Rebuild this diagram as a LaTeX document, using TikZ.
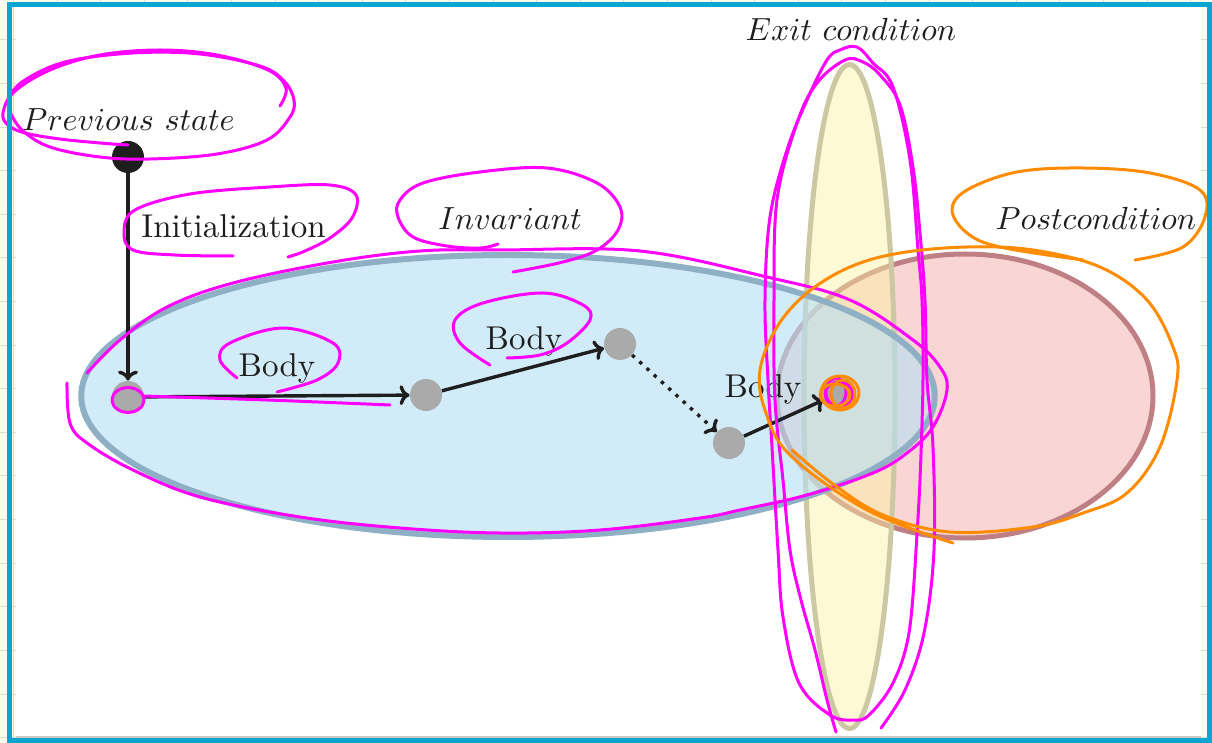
\documentclass[tikz,border=0pt]{standalone}
\usetikzlibrary{shapes.geometric,arrows.meta}
\definecolor{paper}{RGB}{254,252,236}
\definecolor{gridc}{RGB}{222,220,206}
\definecolor{framec}{RGB}{10,166,209}
\definecolor{bluef}{RGB}{180,223,245}
\definecolor{blueb}{RGB}{143,176,196}
\definecolor{pinkf}{RGB}{249,214,211}
\definecolor{pinkb}{RGB}{190,128,132}
\definecolor{yelf}{RGB}{253,242,162}
\definecolor{yelb}{RGB}{205,200,164}
\definecolor{nodegray}{RGB}{170,170,170}
\definecolor{ink}{RGB}{30,30,30}
\definecolor{mag}{RGB}{255,0,255}
\definecolor{orng}{RGB}{255,140,0}
\newcommand{\lblscale}[1]{\scalebox{1.6}{#1}}
\newcommand{\rmscale}[1]{\scalebox{1.65}{#1}}
\tikzset{
  statenode/.style={circle, fill=nodegray, minimum size=16pt, inner sep=0pt},
  startnode/.style={circle, fill=ink, minimum size=16pt, inner sep=0pt},
  lbl/.style={text=ink, inner sep=0pt},
  flow/.style={draw=ink, line width=1.7pt, -{To[length=5pt,width=10pt]}},
  dotflow/.style={flow, dash pattern=on 1.7pt off 3.2pt},
  region/.style={ellipse, inner sep=0pt},
  mscrib/.style={draw=mag, line width=1.5pt, line cap=round, line join=round},
  oscrib/.style={draw=orng, line width=1.5pt, line cap=round, line join=round},
}
\begin{document}
\begin{tikzpicture}[x=0.5pt,y=-0.5pt]
\useasboundingbox (0,0) rectangle (1212,743);
% paper background with grid
\fill[paper] (0,0) rectangle (1212,743);
\foreach \gy in {-3.6,40,...,760} \draw[gridc, line width=0.5pt] (0,\gy) -- (1212,\gy);
\foreach \gx in {13.4,57,...,1220} \draw[gridc, line width=0.5pt] (\gx,0) -- (\gx,743);
\fill[white] (16,6.5) rectangle (1201,737);
\draw[gridc!80!gray, line width=0.6pt] (16,737) -- (1201,737);

% regions
\node[region, draw=pinkb, line width=2.5pt, fill=pinkf, minimum width=188pt, minimum height=142pt] (post) at (965,396) {};
\node[region, draw=yelb, line width=2.5pt, fill=yelf, fill opacity=0.45, minimum width=45.5pt, minimum height=332pt] (exit) at (849.5,396.5) {};
\node[region, draw=blueb, line width=3pt, fill=bluef, fill opacity=0.6, minimum width=426.75pt, minimum height=141pt] (inv) at (508,396) {};

% states
\node[startnode] (prev) at (128,157) {};
\node[statenode] (s0) at (128,397) {};
\node[statenode] (s1) at (426,395) {};
\node[statenode] (s2) at (620,344) {};
\node[statenode] (s3) at (729,443) {};
\node[statenode] (s4) at (839,393) {};

\draw[flow] (prev) -- (s0);
\draw[flow] (s0) -- (s1);
\draw[flow] (s1) -- (s2);
\draw[dotflow] (s2) -- (s3);
\draw[flow] (s3) -- (s4);

% labels
\node[lbl, anchor=base] (lprev) at (128.5,131) {\lblscale{$Previous\ state$}};
\node[lbl, anchor=base west] (linit) at (141,238) {\rmscale{Initialization}};
\node[lbl, anchor=base] (linv) at (510,230) {\lblscale{$Invariant$}};
\node[lbl, anchor=base] (lb1) at (277,377) {\rmscale{Body}};
\node[lbl, anchor=base] (lb2) at (524,350) {\rmscale{Body}};
\node[lbl, anchor=base] (lb3) at (763,398) {\rmscale{Body}};
\node[lbl, anchor=base] (lexit) at (851,41) {\lblscale{$Exit\ condition$}};
\node[lbl, anchor=base] (lpost) at (1096,230) {\lblscale{$Postcondition$}};

% hand-drawn annotations
\draw[mscrib] plot[smooth, tension=0.6] coordinates {(280,106) (286,88) (268,70) (217,55) (160,50) (100,55) (50,70) (14,92) (3,113) (8,125) (25,133) (60,139) (100,143) (128,145)};
\draw[mscrib] plot[smooth, tension=0.6] coordinates {(8,100) (22,82) (65,62) (133,53) (200,54) (260,66) (284,81) (294,100) (290,117) (267,140) (217,154) (150,159) (100,157) (50,147) (22,130) (10,112)};
\draw[mscrib] plot[smooth, tension=0.6] coordinates {(233,256) (175,255) (133,250) (124,232) (135,210) (190,194) (270,187) (330,185) (356,195) (352,218) (330,238) (305,251) (288,257)};
\draw[mscrib] plot[smooth, tension=0.6] coordinates {(498,244) (480,248) (447,246) (413,237) (398,217) (400,200) (423,183) (480,172) (547,168) (597,183) (620,207) (618,230) (597,250) (563,262) (513,272)};
\draw[mscrib] plot[smooth, tension=0.6] coordinates {(87,373) (120,340) (167,307) (233,283) (333,262) (420,251) (500,250) (640,251) (767,277) (850,300) (913,340) (940,367) (947,390) (933,427) (907,453) (873,473) (807,495) (740,510) (700,518) (600,530) (500,533) (400,528) (300,517) (200,497) (133,470) (87,443) (70,423) (67,383)};
\draw[mscrib] (128,400) ellipse [x radius=8pt, y radius=6.2pt];
\draw[mscrib] plot[smooth, tension=0.6] coordinates {(143,396) (267,400) (390,405)};
\draw[mscrib] plot[smooth, tension=0.6] coordinates {(237,378) (220,360) (230,343) (283,328) (333,343) (338,363) (317,380) (277,392)};
\draw[mscrib] plot[smooth, tension=0.6] coordinates {(490,365) (460,343) (455,320) (483,303) (543,293) (583,305) (590,320) (567,343) (540,355) (507,358)};
\draw[mscrib] plot[smooth, tension=0.6] coordinates {(836,732) (827,700) (815,650) (801,600) (790,550) (783,480) (775,400) (774,300) (777,200) (797,123) (817,83) (845,60) (863,62) (880,75) (900,105) (913,167) (920,233) (925,300) (927,380) (933,447) (934,550) (924,633) (905,690) (881,728)};
\draw[mscrib] plot[smooth, tension=0.6] coordinates {(916,550) (920,480) (923,380) (922,300) (918,250) (910,160) (893,87) (873,63) (857,47) (840,50) (827,60) (807,100) (787,150) (770,217) (765,300) (768,380) (772,447) (778,550) (783,617) (799,683) (830,715) (854,720) (869,715) (893,683) (909,633) (916,550)};
\draw[mscrib] (839,394) ellipse [x radius=7pt, y radius=6pt];
\draw[mscrib] (836,392) ellipse [x radius=5pt, y radius=7pt];
\draw[oscrib] (840,393) ellipse [x radius=9.5pt, y radius=8.5pt];
\draw[oscrib] (843,394) ellipse [x radius=6pt, y radius=7pt];
\draw[oscrib] (835,395) ellipse [x radius=7.5pt, y radius=5.5pt];
\draw[oscrib] plot[smooth, tension=0.6] coordinates {(1135,260) (1183,247) (1205,217) (1200,190) (1150,173) (1083,168) (1017,172) (967,190) (952,210) (967,233) (1000,247) (1083,260)};
\draw[oscrib] plot[smooth, tension=0.6] coordinates {(953,543) (867,510) (790,455) (765,410) (760,370) (777,327) (807,293) (850,267) (900,253) (967,247) (1033,250) (1100,267) (1147,300) (1173,347) (1177,380) (1160,447) (1127,493) (1083,513) (1033,527) (950,532) (883,515) (833,484) (792,450)};

% window frame
\draw[framec, line width=2.5pt] (9.2,4.2) rectangle (1209.5,740.5);
\end{tikzpicture}
\end{document}
